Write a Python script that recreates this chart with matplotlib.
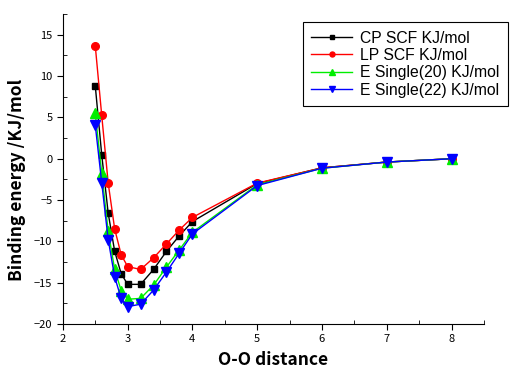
import matplotlib
matplotlib.use('Agg')
import matplotlib.pyplot as plt
from matplotlib.ticker import MultipleLocator

# O-O distance
dist = [2.5, 2.6, 2.7, 2.8, 2.9, 3.0, 3.2, 3.4, 3.6, 3.8, 4.0, 5, 6, 7, 8]

cp_scf = [8.85, 0.48, -6.6, -11.2, -13.9, -15.2, -15.2, -13.4, -11.2, -9.3, -7.6, -3.0, -1.1, -0.4, 0.0]
lp_scf = [13.7, 5.25, -2.95, -8.5, -11.6, -13.05, -13.4, -12.0, -10.3, -8.6, -7.1, -2.95, -1.1, -0.4, 0.0]
e_single20 = [5.5, -1.75, -8.8, -13.4, -15.95, -17.0, -16.9, -15.3, -13.1, -11.0, -8.9, -3.15, -1.15, -0.4, 0.0]
e_single22 = [4.1, -2.9, -9.8, -14.3, -16.9, -17.9, -17.6, -15.9, -13.7, -11.4, -9.1, -3.25, -1.15, -0.4, 0.0]

plt.rcParams['font.family'] = ['Noto Sans CJK JP', 'DejaVu Sans']

fig = plt.figure(figsize=(5.11, 3.72), dpi=100)
ax = fig.add_axes([0.123, 0.129, 0.824, 0.833])

ax.plot(dist, cp_scf, color='black', marker='s', ms=5, lw=1, label='CP SCF KJ/mol')
ax.plot(dist, lp_scf, color='red', marker='o', ms=5.5, lw=1, label='LP SCF KJ/mol')
ax.plot(dist, e_single20, color='#00ee00', marker='^', ms=6.5, lw=1, label='E Single(20) KJ/mol')
ax.plot(dist, e_single22, color='blue', marker='v', ms=6.5, lw=1, label='E Single(22) KJ/mol')

ax.set_xlim(2, 8.5)
ax.set_ylim(-20, 17.5)
ax.xaxis.set_major_locator(MultipleLocator(1))
ax.xaxis.set_minor_locator(MultipleLocator(0.5))
ax.yaxis.set_major_locator(MultipleLocator(5))
ax.yaxis.set_minor_locator(MultipleLocator(2.5))
ax.tick_params(which='major', direction='out', length=4, labelsize=8)
ax.tick_params(which='minor', direction='in', length=3)
ax.spines['top'].set_visible(False)
ax.spines['right'].set_visible(False)

ax.set_xlabel('O-O distance', fontsize=12.5, fontweight='bold', labelpad=5)
ax.set_ylabel('Binding energy /KJ/mol', fontsize=12.5, fontweight='bold')
ax.yaxis.set_label_coords(-0.088, 0.465)

leg = ax.legend(loc='upper right', bbox_to_anchor=(508 / 511, 1 - 22 / 372), bbox_transform=fig.transFigure,
                prop={'family': ['Liberation Sans'], 'size': 11.3}, fancybox=False, edgecolor='black',
                framealpha=1, handlelength=2.6, markerscale=0.65, borderpad=0.55, labelspacing=0.15,
                handletextpad=0.5, borderaxespad=0)
leg.get_frame().set_linewidth(0.8)

fig.savefig('out.png', dpi=100)
